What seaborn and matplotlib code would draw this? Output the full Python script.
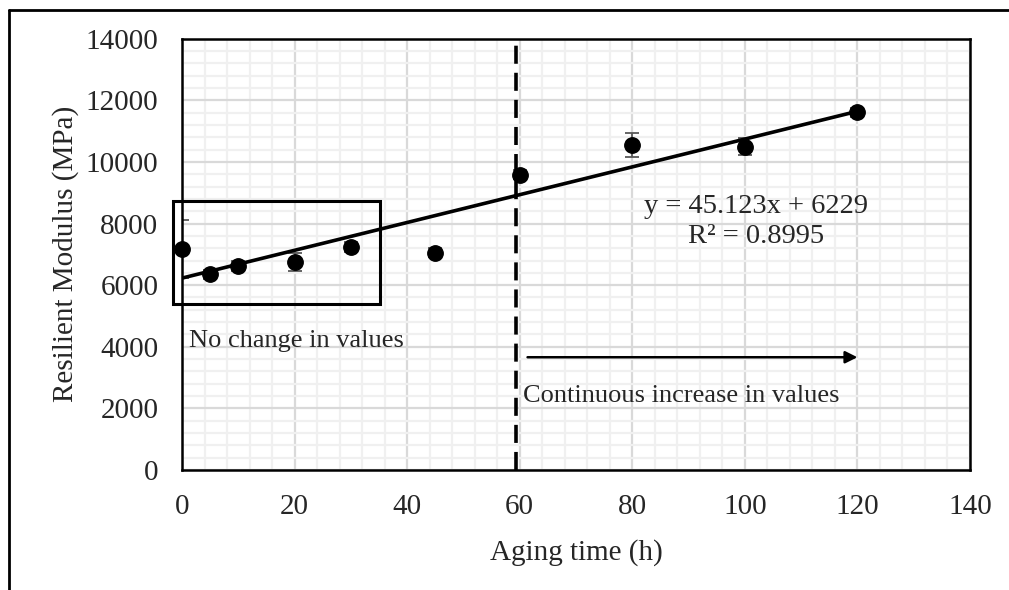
import numpy as np
import pandas as pd
import matplotlib
matplotlib.use('Agg')
import matplotlib.pyplot as plt
from matplotlib.lines import Line2D
from matplotlib.patches import Rectangle
from matplotlib.ticker import MultipleLocator
import seaborn as sns

# data
aging_time = [0, 5, 10, 20, 30, 45, 60, 80, 100, 120]
modulus = [7160, 6350, 6620, 6750, 7240, 7050, 9580, 10560, 10500, 11610]
modulus_err = [940, 150, 150, 290, 150, 150, 150, 390, 280, 150]

# trend line given on the chart
slope = 45.123
intercept = 6229
trend_x = [0, 120]

df = pd.DataFrame({'Aging time (h)': aging_time, 'Resilient Modulus (MPa)': modulus})
trend = pd.DataFrame({'x': trend_x, 'y': [slope * v + intercept for v in trend_x]})

sns.set_style('white')
plt.rcParams['font.family'] = ['Liberation Serif', 'DejaVu Serif']

fig = plt.figure(figsize=(10.09, 5.90), dpi=100)
ax = fig.add_axes([0.1804, 0.2034, 0.9613 - 0.1804, 0.9344 - 0.2034])

ax.set_xlim(0, 140)
ax.set_ylim(0, 14000)
ax.xaxis.set_major_locator(MultipleLocator(20))
ax.xaxis.set_minor_locator(MultipleLocator(4))
ax.yaxis.set_major_locator(MultipleLocator(2000))
ax.yaxis.set_minor_locator(MultipleLocator(400))
ax.grid(which='minor', color='#f0f0f0', linewidth=1.6, zorder=0)
ax.grid(which='major', color='#d9d9d9', linewidth=1.6, zorder=0)
ax.set_axisbelow(True)

ax.errorbar(aging_time, modulus, yerr=modulus_err, fmt='none', ecolor='#595959',
            elinewidth=1.3, capsize=5, capthick=1.3, zorder=2)
sns.lineplot(data=trend, x='x', y='y', color='black', linewidth=2.6, ax=ax, zorder=3)
sns.scatterplot(data=df, x='Aging time (h)', y='Resilient Modulus (MPa)', color='black',
                s=125, edgecolor='black', ax=ax, zorder=4, clip_on=False)

ax.axvline(59.3, color='black', linewidth=2.6, linestyle=(0, (5, 2.5)), zorder=5)

ax.add_patch(Rectangle((-1.55, 5380), 36.75, 3340, fill=False, edgecolor='black',
                       linewidth=2.2, clip_on=False, zorder=5))

ax.text(1.2, 4200, 'No change in values', fontsize=19, va='center', ha='left')
ax.text(60.6, 2400, 'Continuous increase in values', fontsize=19, va='center', ha='left')
ax.annotate('', xy=(120.5, 3660), xytext=(60.9, 3660),
            arrowprops=dict(arrowstyle='-|>', color='black', lw=1.8, mutation_scale=18))
ax.text(102.0, 8070, 'y = 45.123x + 6229\nR² = 0.8995', fontsize=20.5,
        ha='center', va='center', linespacing=1.3)

ax.set_xlabel('Aging time (h)', fontsize=21, labelpad=14)
ax.set_ylabel('Resilient Modulus (MPa)', fontsize=21, labelpad=5)
ax.tick_params(axis='both', which='both', length=0, labelsize=21)
ax.tick_params(axis='x', pad=17)
ax.tick_params(axis='y', pad=17)

for sp in ax.spines.values():
    sp.set_visible(True)
    sp.set_color('black')
    sp.set_linewidth(1.8)

# outer chart frame (left and top edges visible)
fig.add_artist(Line2D([8.5 / 1009, 8.5 / 1009], [0, 1 - 10 / 590], color='black', linewidth=2))
fig.add_artist(Line2D([8.5 / 1009, 1], [1 - 10 / 590, 1 - 10 / 590], color='black', linewidth=2))

fig.savefig('out.png', dpi=100)
